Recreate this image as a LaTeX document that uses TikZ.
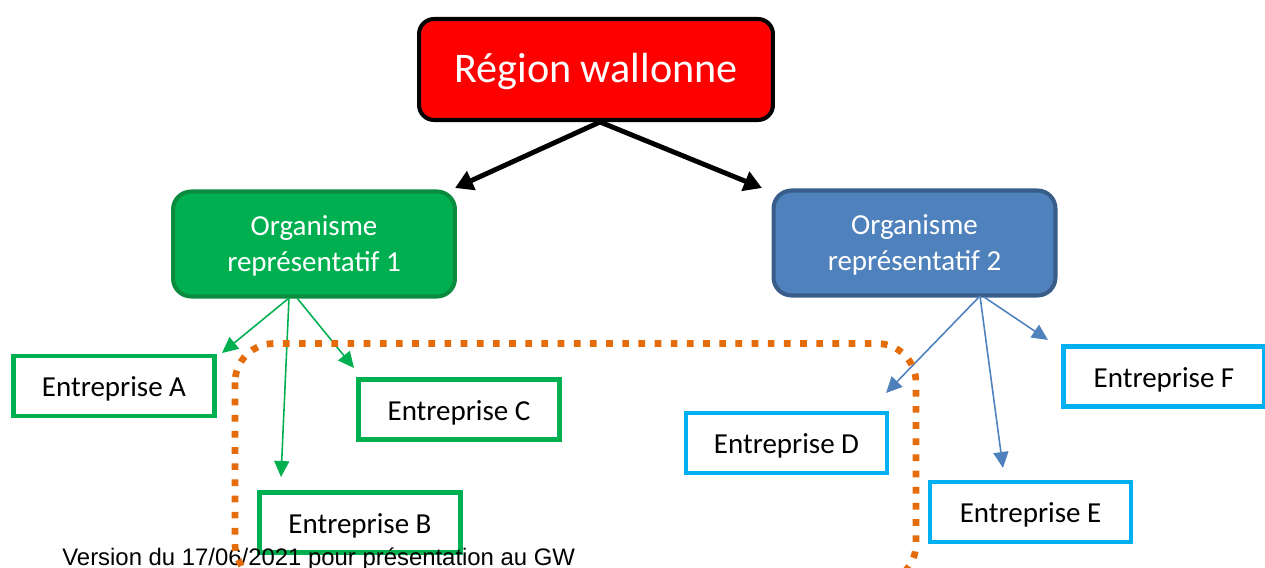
\documentclass[tikz,border=0pt]{standalone}
\usepackage{fontspec}
\setmainfont{Carlito}
\newfontfamily\arialfont{Liberation Sans}
\usetikzlibrary{arrows.meta}
\definecolor{vertfonce}{HTML}{0A8C3E}
\definecolor{vert}{HTML}{00B050}
\definecolor{bleu}{HTML}{4F81BD}
\definecolor{bleufonce}{HTML}{385D8A}
\definecolor{cyan}{HTML}{00B0F0}
\definecolor{orange}{HTML}{E46C0A}

\begin{document}
\begin{tikzpicture}[x=0.02cm,y=-0.02cm,
  region/.style={draw=black,fill=red,line width=2.3pt,rounded corners=0.3cm,
    minimum width=7.08cm,minimum height=2.02cm,inner sep=0pt,text=white,
    text height=15.3pt,text depth=0pt,font=\fontsize{24}{29}\selectfont},
  orgbox/.style={line width=2.3pt,rounded corners=0.36cm,minimum width=5.64cm,
    minimum height=2.1cm,inner sep=0pt,text=white,align=center,
    text height=31.8pt,text depth=0pt,font=\fontsize{16.5}{21}\selectfont},
  entbox/.style={draw=#1,fill=white,line width=2.8pt,minimum width=4.02cm,
    minimum height=1.2cm,inner sep=0pt,text height=12.4pt,text depth=0pt,
    font=\fontsize{16.5}{20}\selectfont},
  bigarrow/.style={-{Triangle[length=3.6mm,width=4mm]},line width=2.8pt},
  smallarrow/.style={-{Triangle[length=3.2mm,width=3mm]},line width=0.9pt,#1}]
  \path[use as bounding box,clip] (0,0) rectangle (1265,568);

  \node[region] (region) at (596,69.5) {Région wallonne};
  \node[orgbox,draw=vertfonce,fill=vert] (org1) at (314,244) {Organisme\\représentatif 1};
  \node[orgbox,draw=bleufonce,fill=bleu] (org2) at (914.5,243) {Organisme\\représentatif 2};

  % entreprises
  \node[entbox=vert] (entA) at (114,386) {Entreprise A};
  \node[entbox=vert] (entC) at (459,409.5) {Entreprise C};
  \node[entbox=vert] (entB) at (360,522.5) {Entreprise B};
  \node[entbox=cyan] (entD) at (786.5,443) {Entreprise D};
  \node[entbox=cyan] (entE) at (1030.5,512) {Entreprise E};
  \node[entbox=cyan] (entF) at (1164,376.5) {Entreprise F};

  % points de depart et pointes des fleches
  \coordinate (regS) at (600,122);
  \coordinate (tOrg1) at (455,188);
  \coordinate (tOrg2) at (762,188);
  \coordinate (o1a) at (289,298);
  \coordinate (o1b) at (297,298);
  \coordinate (tA) at (222,353);
  \coordinate (tB) at (281,477);
  \coordinate (tC) at (354,368);
  \coordinate (o2a) at (980,296);
  \coordinate (o2b) at (984,297);
  \coordinate (tD) at (886,393);
  \coordinate (tE) at (1003,468);
  \coordinate (tF) at (1048,340);

  \draw[bigarrow] (regS) -- (tOrg1);
  \draw[bigarrow] (regS) -- (tOrg2);
  \foreach \t in {tA,tB} \draw[smallarrow=vert] (o1a) -- (\t);
  \draw[smallarrow=vert] (o1b) -- (tC);
  \foreach \t in {tD,tE} \draw[smallarrow=bleu] (o2a) -- (\t);
  \draw[smallarrow=bleu] (o2b) -- (tF);

  \node[anchor=base west,inner sep=0pt,font=\arialfont\fontsize{13.6}{16}\selectfont]
    (version) at (62,565) {Version du 17/06/2021 pour présentation au GW};

  % cadre pointille
  \draw[orange,line width=3.8pt,dash pattern=on 3.8pt off 5.4pt,rounded corners=0.78cm]
    (235,343.5) rectangle (916,583);
\end{tikzpicture}
\end{document}
